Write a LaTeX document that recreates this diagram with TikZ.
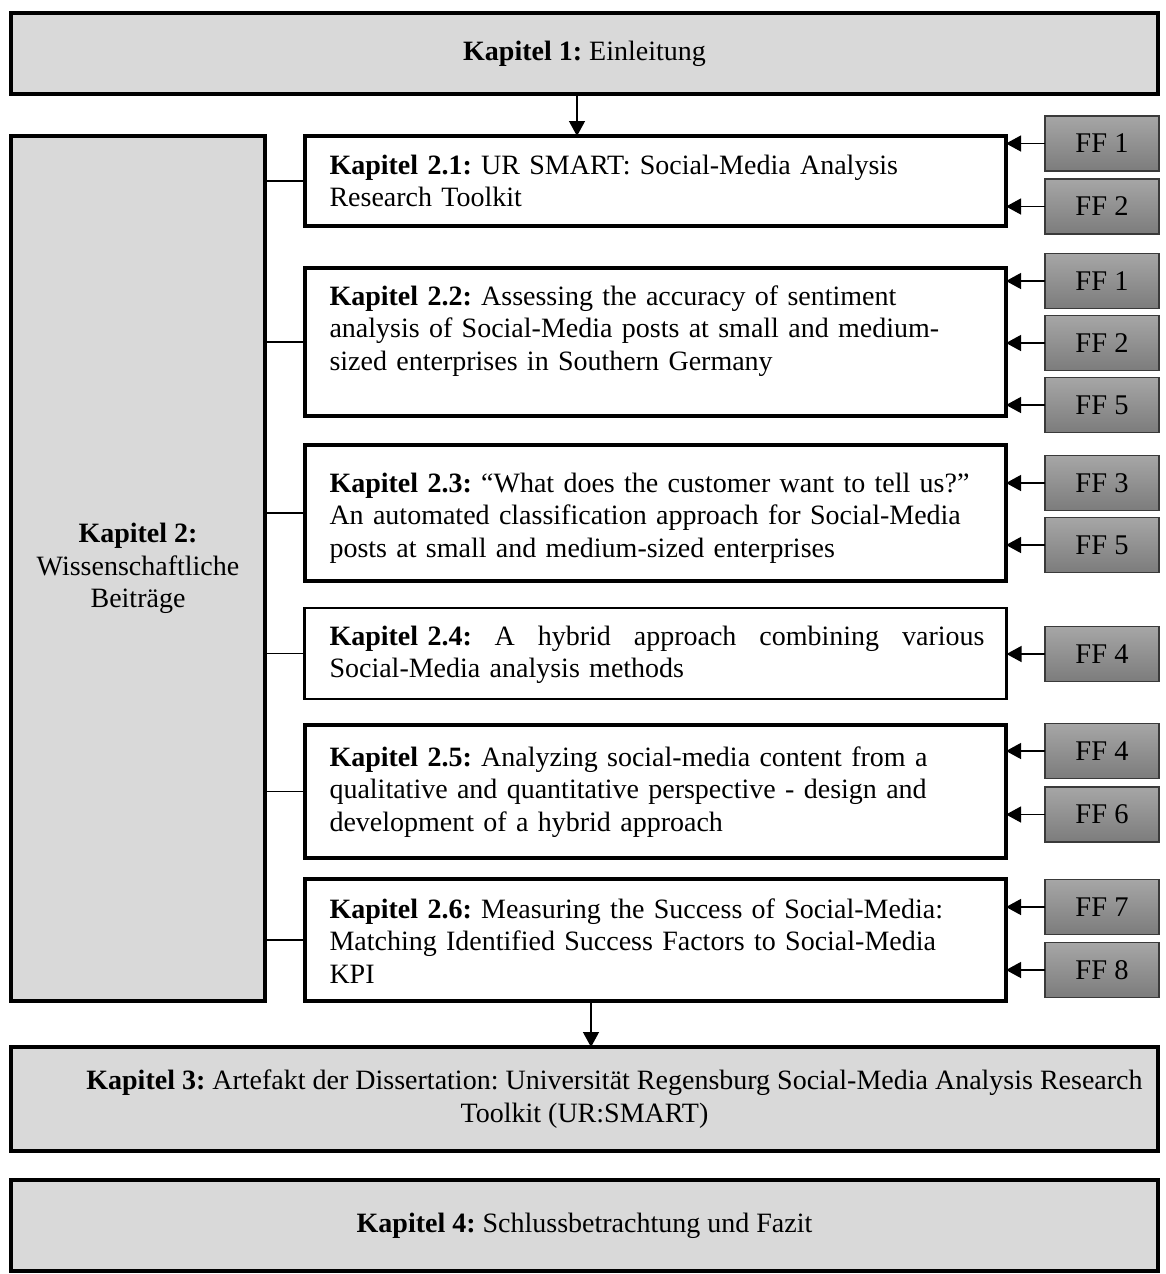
\documentclass[tikz,border=0pt]{standalone}
\usepackage{fontspec}
\setmainfont{Liberation Serif}
\usetikzlibrary{arrows.meta}
\frenchspacing

\definecolor{boxgray}{HTML}{D9D9D9}
\definecolor{fftop}{HTML}{A6A6A6}
\definecolor{ffbot}{HTML}{7C7C7C}
\definecolor{ffline}{HTML}{3A3A3A}

\tikzset{
  chapter/.style={draw=black, line width=3.5pt, fill=boxgray, inner sep=0pt, outer sep=0pt,
    align=center, font=\fontsize{28}{32.5}\selectfont},
  paper/.style={draw=black, line width=3.5pt, fill=white, inner sep=0pt, outer sep=0pt},
  papertext/.style={inner sep=0pt, outer sep=0pt, text width=655pt, align=left,
    font=\fontsize{28}{32.5}\selectfont},
  ffbox/.style={draw=ffline, line width=1.4pt, top color=fftop, bottom color=ffbot,
    minimum width=114pt, minimum height=55pt, inner sep=0pt, outer sep=0pt,
    font=\fontsize{28.5}{32}\selectfont},
  arr/.style={line width=1.3pt, -{Triangle[length=15pt,width=16pt]}},
  link/.style={line width=1.3pt},
}

\begin{document}
\begin{tikzpicture}[x=1pt,y=-1pt]
\useasboundingbox (0,0) rectangle (1165,1274);

% chapters framing the contributions
\node[chapter, minimum width=1147pt, minimum height=81pt] (k1) at (584.5,53.5)
  {\textbf{Kapitel 1:} Einleitung};
\node[chapter, minimum width=254pt, minimum height=865pt] (k2) at (138,568.5)
  {\textbf{Kapitel 2:}\\Wissenschaftliche\\Beiträge};
\node[chapter, minimum width=1147pt, minimum height=104pt] (k3) at (584.5,1099)
  {\hspace*{60pt}\textbf{Kapitel 3:} Artefakt der Dissertation: Universität Regensburg Social-Media Analysis Research\\Toolkit (UR:SMART)};
\node[chapter, minimum width=1147pt, minimum height=91pt] (k4) at (584.5,1225.5)
  {\textbf{Kapitel 4:} Schlussbetrachtung und Fazit};

% scientific contributions
\node[paper, minimum width=701pt, minimum height=90pt] (s21) at (655.5,181) {};
\node[papertext] (t21) at (657,181)
  {\textbf{Kapitel 2.1:} UR SMART: Social-Media Analysis\\Research Toolkit};

\node[paper, minimum width=701pt, minimum height=148pt] (s22) at (655.5,342) {};
\node[papertext] (t22) at (657,331)
  {\textbf{Kapitel 2.2:} Assessing the accuracy of sentiment\\analysis of Social-Media posts at small and medium-\\sized enterprises in Southern Germany};

\node[paper, minimum width=701pt, minimum height=136pt] (s23) at (655.5,513) {};
\node[papertext] (t23) at (657,518)
  {\textbf{Kapitel 2.3:} “What does the customer want to tell us?”\\An automated classification approach for Social-Media\\posts at small and medium-sized enterprises};

\node[paper, line width=2.5pt, minimum width=702pt, minimum height=91pt] (s24) at (655.5,653.5) {};
\node[papertext] (t24) at (657,655)
  {\hbox to 655pt{\textbf{Kapitel 2.4:}\hfill A\hfill hybrid\hfill approach\hfill combining\hfill various}\\Social-Media analysis methods};

\node[paper, minimum width=701pt, minimum height=133pt] (s25) at (655.5,791.5) {};
\node[papertext] (t25) at (657,792)
  {\textbf{Kapitel 2.5:} Analyzing social-media content from a\\qualitative and quantitative perspective - design and\\development of a hybrid approach};

\node[paper, minimum width=701pt, minimum height=122pt] (s26) at (655.5,940) {};
\node[papertext] (t26) at (657,941)
  {\textbf{Kapitel 2.6:} Measuring the Success of Social-Media:\\Matching Identified Success Factors to Social-Media\\KPI};

% research questions
\node[ffbox] (f21a) at (1102,143.5) {FF 1};
\node[ffbox] (f21b) at (1102,206.5) {FF 2};
\node[ffbox] (f22a) at (1102,281) {FF 1};
\node[ffbox] (f22b) at (1102,343) {FF 2};
\node[ffbox] (f22c) at (1102,405) {FF 5};
\node[ffbox] (f23a) at (1102,483) {FF 3};
\node[ffbox] (f23b) at (1102,545) {FF 5};
\node[ffbox] (f24a) at (1102,654) {FF 4};
\node[ffbox] (f25a) at (1102,751) {FF 4};
\node[ffbox] (f25b) at (1102,814.5) {FF 6};
\node[ffbox] (f26a) at (1102,907) {FF 7};
\node[ffbox] (f26b) at (1102,970) {FF 8};

% research questions point at their contributions
\foreach \f/\s in {f21a/s21,f21b/s21,f22a/s22,f22b/s22,f22c/s22,f23a/s23,f23b/s23,
                   f24a/s24,f25a/s25,f25b/s25,f26a/s26,f26b/s26}
  \draw[arr] (\f.west) -- (\s.east |- \f.west);

% chapter 2 branches to each contribution
\foreach \s in {s21,s22,s23,s24,s25,s26}
  \draw[link] (k2.east |- \s.west) -- (\s.west);

% reading order
\draw[arr] ([xshift=-7.5pt]k1.south) -- ([xshift=-7.5pt]k1.south |- s21.north);
\draw[arr] ([xshift=6.5pt]k3.north |- s26.south) -- ([xshift=6.5pt]k3.north);
\end{tikzpicture}
\end{document}
